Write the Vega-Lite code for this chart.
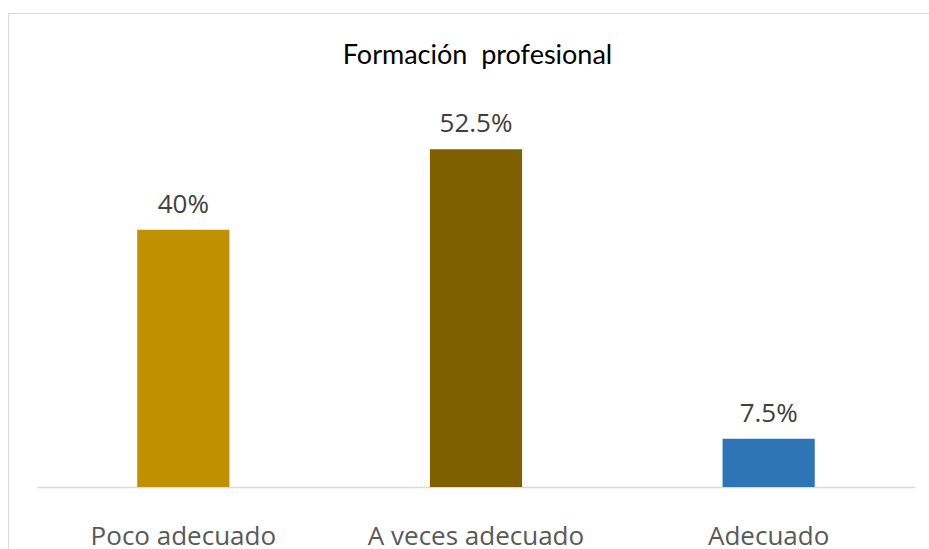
{
  "$schema": "https://vega.github.io/schema/vega-lite/v6.json",
  "autosize": {"type": "none"},
  "padding": {"left": 8, "top": 13, "right": 0, "bottom": 0},
  "width": 921,
  "height": 536,
  "background": "white",
  "config": {"view": {"stroke": "#d9d9d9", "strokeWidth": 1}},
  "title": {
    "text": "Formación\u00a0 profesional",
    "font": "Lato",
    "fontSize": 27,
    "fontWeight": "normal",
    "color": "#000000",
    "anchor": "middle",
    "frame": "group",
    "baseline": "alphabetic",
    "offset": 0,
    "dx": 9,
    "dy": 78
  },
  "data": {
    "values": [
      {"categoria": "Poco adecuado", "valor": 40, "etiqueta": "40%"},
      {"categoria": "A veces adecuado", "valor": 52.5, "etiqueta": "52.5%"},
      {"categoria": "Adecuado", "valor": 7.5, "etiqueta": "7.5%"}
    ]
  },
  "encoding": {
    "x": {
      "field": "categoria",
      "type": "nominal",
      "sort": null,
      "scale": {"range": [29, 907], "paddingInner": 0.685, "paddingOuter": 0.3425},
      "axis": {
        "title": null,
        "orient": "bottom",
        "offset": -62,
        "domainColor": "#d9d9d9",
        "domainWidth": 1.5,
        "ticks": false,
        "labelAngle": 0,
        "labelFont": "Open Sans",
        "labelFontSize": 26,
        "labelColor": "#595959",
        "labelBaseline": "alphabetic",
        "labelPadding": 57,
        "labelLimit": 0
      }
    },
    "y": {
      "field": "valor",
      "type": "quantitative",
      "scale": {"domain": [0, 60], "range": [474, 88], "nice": false},
      "axis": null
    }
  },
  "layer": [
    {
      "mark": {"type": "bar"},
      "encoding": {
        "color": {
          "field": "categoria",
          "type": "nominal",
          "sort": null,
          "scale": {"domain": ["Poco adecuado", "A veces adecuado", "Adecuado"], "range": ["#BF9000", "#7F6000", "#2E75B6"]},
          "legend": null
        }
      }
    },
    {
      "mark": {"type": "text", "baseline": "alphabetic", "dy": -17, "font": "Open Sans", "fontSize": 26, "color": "#404040"},
      "encoding": {"text": {"field": "etiqueta"}}
    }
  ]
}
